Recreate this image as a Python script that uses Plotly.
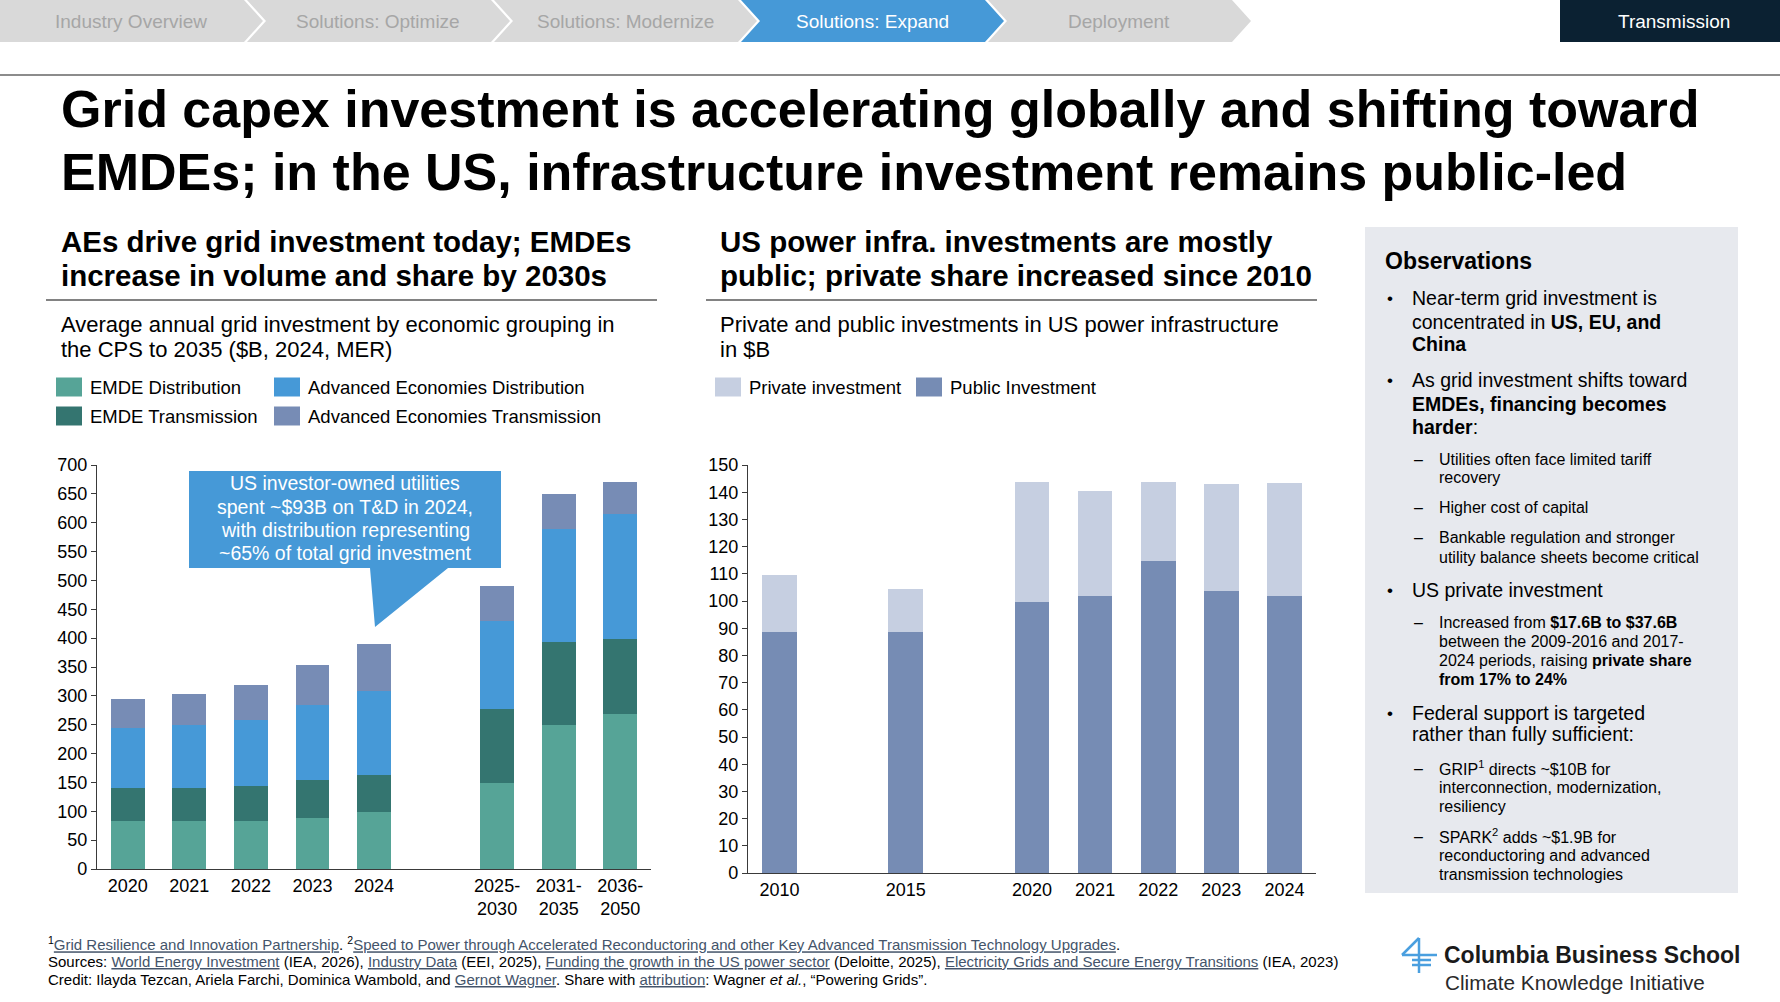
import plotly.graph_objects as go

W, H = 1780, 1002
FONT = "Liberation Sans, Arial, Helvetica, sans-serif"

# left chart: average annual grid investment by economic grouping ($B, 2024, MER)
periods = ["2020", "2021", "2022", "2023", "2024", "2025-<br>2030", "2031-<br>2035", "2036-<br>2050"]
emde_dist = [84, 84, 84, 88, 99, 149, 250, 268]
emde_trans = [56, 56, 60, 66, 64, 129, 144, 130]
ae_dist = [105, 110, 114, 130, 145, 152, 195, 217]
ae_trans = [49, 54, 60, 69, 81, 60, 60, 55]
grid_names = ["EMDE Distribution", "EMDE Transmission",
              "Advanced Economies Distribution", "Advanced Economies Transmission"]
grid_colors = ["#56a497", "#347570", "#4699d7", "#778cb5"]

# right chart: private and public investments in US power infrastructure ($B)
years = ["2010", "2015", "2020", "2021", "2022", "2023", "2024"]
public_inv = [88.5, 88.5, 99.5, 102, 114.7, 103.7, 102]
private_inv = [21.1, 15.9, 44.1, 38.6, 28.9, 39.3, 41.3]
us_names = ["Private investment", "Public Investment"]
us_colors = ["#c6cfe1", "#768cb4"]

nav_items = ["Industry Overview", "Solutions: Optimize", "Solutions: Modernize",
             "Solutions: Expand", "Deployment"]
nav_active = 3


def fx(x):
    return x / W


def fy(y):
    return 1 - y / H


def path(points):
    return "M " + " L ".join(f"{fx(x):.5f},{fy(y):.5f}" for x, y in points) + " Z"


fig = go.Figure()

for name, vals, color in zip(grid_names, [emde_dist, emde_trans, ae_dist, ae_trans], grid_colors):
    fig.add_trace(go.Bar(x=periods, y=vals, name=name, marker_color=color,
                         marker_line_width=0, xaxis="x", yaxis="y", showlegend=False))

for name, vals, color in zip(us_names[::-1], [public_inv, private_inv], us_colors[::-1]):
    fig.add_trace(go.Bar(x=years, y=vals, name=name, marker_color=color,
                         marker_line_width=0, xaxis="x2", yaxis="y2", showlegend=False))

left_order = periods[:5] + [" "] + periods[5:]
right_order = [years[0], " ", years[1], "  "] + years[2:]

axis_common = dict(showline=True, linecolor="#3a3a3a", linewidth=1.3, showgrid=False,
                   zeroline=False, automargin=False,
                   tickfont=dict(family=FONT, size=18, color="#000"))

fig.update_layout(
    width=W, height=H, margin=dict(l=0, r=0, t=0, b=0, pad=0, autoexpand=False),
    paper_bgcolor="white", plot_bgcolor="white",
    barmode="stack", bargap=0.45,
    font=dict(family=FONT, color="#000"),
    xaxis=dict(domain=[fx(97), fx(651)], type="category", categoryorder="array",
               categoryarray=left_order, anchor="y", ticks="", **axis_common),
    yaxis=dict(domain=[fy(869), fy(465)], range=[0, 700], dtick=50, anchor="x",
               ticks="outside", ticklen=5, tickcolor="#3a3a3a", **axis_common),
    xaxis2=dict(domain=[fx(748), fx(1316)], type="category", categoryorder="array",
                categoryarray=right_order, anchor="y2", ticks="", **axis_common),
    yaxis2=dict(domain=[fy(873), fy(465)], range=[0, 150], dtick=10, anchor="x2",
                ticks="outside", ticklen=5, tickcolor="#3a3a3a", **axis_common),
)


def note(x, y, text, size, color="#000000", anchor="left", bold=False):
    fig.add_annotation(x=fx(x), y=fy(y), xref="paper", yref="paper",
                       text=f"<b>{text}</b>" if bold else text, showarrow=False,
                       xanchor=anchor, yanchor="middle", align="left" if anchor == "left" else anchor,
                       borderpad=0, font=dict(family=FONT, size=size, color=color))


# navigation chevrons
P, WB, D = 247, 244, 19
for i, label in enumerate(nav_items):
    L = i * P
    pts = [(L, 0), (L + WB, 0), (L + WB + D, 21), (L + WB, 42), (L, 42)]
    if i > 0:
        pts.append((L + D, 21))
    active = i == nav_active
    fig.add_shape(type="path", path=path(pts), xref="paper", yref="paper",
                  fillcolor="#4699d7" if active else "#d9d9d9", line_width=0)
    note(L + 131, 21, label, 19, color="white" if active else "#a6a6a6", anchor="center")

fig.add_shape(type="rect", x0=fx(1560), x1=1, y0=fy(42), y1=1, xref="paper", yref="paper",
              fillcolor="#0b2132", line_width=0)
note(1674, 21, "Transmission", 19, color="white", anchor="center")

fig.add_shape(type="line", x0=0, x1=1, y0=fy(75), y1=fy(75), xref="paper", yref="paper",
              line=dict(color="#1a1a1a", width=1.2))

# title
note(60, 109, "Grid capex investment is accelerating globally and shifting toward", 52, bold=True)
note(60, 172, "EMDEs; in the US, infrastructure investment remains public-led", 52, bold=True)

# left panel header
note(60, 241, "AEs drive grid investment today; EMDEs", 29.5, bold=True)
note(60, 276, "increase in volume and share by 2030s", 29.5, bold=True)
fig.add_shape(type="line", x0=fx(46), x1=fx(657), y0=fy(300), y1=fy(300), xref="paper", yref="paper",
              line=dict(color="#595959", width=1.5))
note(60, 324, "Average annual grid investment by economic grouping in", 22)
note(60, 349, "the CPS to 2035 ($B, 2024, MER)", 22)

legend_slots = [(56, 387), (56, 416), (274, 387), (274, 416)]
for (lx, ly), name, color in zip(legend_slots, grid_names, grid_colors):
    fig.add_shape(type="rect", x0=fx(lx), x1=fx(lx + 26), y0=fy(ly + 9.5), y1=fy(ly - 9.5),
                  xref="paper", yref="paper", fillcolor=color, line_width=0)
    note(lx + 33, ly, name, 18.5)

# right panel header
note(719, 241, "US power infra. investments are mostly", 29.5, bold=True)
note(719, 276, "public; private share increased since 2010", 29.5, bold=True)
fig.add_shape(type="line", x0=fx(706), x1=fx(1317), y0=fy(300), y1=fy(300), xref="paper", yref="paper",
              line=dict(color="#595959", width=1.5))
note(719, 324, "Private and public investments in US power infrastructure", 22)
note(719, 349, "in $B", 22)

for lx, name, color in zip([715, 916], us_names, us_colors):
    fig.add_shape(type="rect", x0=fx(lx), x1=fx(lx + 26), y0=fy(396.5), y1=fy(377.5),
                  xref="paper", yref="paper", fillcolor=color, line_width=0)
    note(lx + 33, 387, name, 18.5)

# callout
fig.add_shape(type="path", xref="paper", yref="paper", fillcolor="#4699d7", line_width=0,
              path=path([(189, 471), (501, 471), (501, 568), (448, 568), (375, 627), (370, 568), (189, 568)]))
for y, line in zip([483, 507, 530, 553], ["US investor-owned utilities", "spent ~$93B on T&D in 2024,",
                                          "with distribution representing", "~65% of total grid investment"]):
    note(345, y, line, 19.5, color="white", anchor="center")

# observations panel
fig.add_shape(type="rect", x0=fx(1365), x1=fx(1738), y0=fy(893), y1=fy(227), xref="paper", yref="paper",
              fillcolor="#e7e9ee", line_width=0, layer="below")
note(1384, 261, "Observations", 23, bold=True)
obs = [
    (298.5, "Near-term grid investment is", "b"),
    (321.5, "concentrated in <b>US, EU, and</b>", "bc"),
    (344, "<b>China</b>", "bc"),
    (380, "As grid investment shifts toward", "b"),
    (404, "<b>EMDEs, financing becomes</b>", "bc"),
    (427, "<b>harder</b>:", "bc"),
    (459, "Utilities often face limited tariff", "s"),
    (477.5, "recovery", "sc"),
    (507, "Higher cost of capital", "s"),
    (537.5, "Bankable regulation and stronger", "s"),
    (557, "utility balance sheets become critical", "sc"),
    (590, "US private investment", "b"),
    (622, "Increased from <b>$17.6B to $37.6B</b>", "s"),
    (641, "between the 2009-2016 and 2017-", "sc"),
    (660, "2024 periods, raising <b>private share</b>", "sc"),
    (679.5, "<b>from 17% to 24%</b>", "sc"),
    (713, "Federal support is targeted", "b"),
    (734, "rather than fully sufficient:", "bc"),
    (768, "GRIP<sup>1</sup> directs ~$10B for", "s"),
    (787, "interconnection, modernization,", "sc"),
    (806, "resiliency", "sc"),
    (836, "SPARK<sup>2</sup> adds ~$1.9B for", "s"),
    (855, "reconductoring and advanced", "sc"),
    (874, "transmission technologies", "sc"),
]
for y, line, kind in obs:
    if kind.startswith("b"):
        if kind == "b":
            note(1386, y, "•", 17)
        note(1411, y, line, 19.5)
    else:
        if kind == "s":
            note(1413, y, "–", 16)
        note(1438, y, line, 16)


# footer
def link(s):
    return f"<span style='color:#44546a'><u>{s}</u></span>"


note(47, 943, "<sup>1</sup>" + link("Grid Resilience and Innovation Partnership") + ". <sup>2</sup>"
     + link("Speed to Power through Accelerated Reconductoring and other Key Advanced Transmission Technology Upgrades")
     + ".", 15)
note(47, 961, "Sources: " + link("World Energy Investment") + " (IEA, 2026), " + link("Industry Data")
     + " (EEI, 2025), " + link("Funding the growth in the US power sector") + " (Deloitte, 2025), "
     + link("Electricity Grids and Secure Energy Transitions") + " (IEA, 2023)", 15)
note(47, 979, "Credit: Ilayda Tezcan, Ariela Farchi, Dominica Wambold, and " + link("Gernot Wagner")
     + ". Share with " + link("attribution") + ": Wagner <i>et al.</i>, “Powering Grids”.", 15)

# logo
for (x0, y0, x1, y1) in [(1419, 938, 1402, 955), (1402, 955, 1437, 955), (1419, 938, 1419, 973),
                         (1412, 960, 1431, 960), (1412, 965, 1431, 965)]:
    fig.add_shape(type="line", x0=fx(x0), y0=fy(y0), x1=fx(x1), y1=fy(y1), xref="paper", yref="paper",
                  line=dict(color="#4a9fdf", width=2.5))
note(1443, 955, "Columbia Business School", 23, color="#1a1a1a", bold=True)
note(1444, 982, "Climate Knowledge Initiative", 20.7, color="#2a2a2a")

pin_page = (
    "document.documentElement.style.margin='0';document.documentElement.style.overflow='hidden';"
    "document.body.style.margin='0';document.body.style.padding='0';document.body.style.overflow='hidden';"
    "var gd=document.getElementById('{plot_id}');"
    "gd.style.position='fixed';gd.style.top='0px';gd.style.left='0px';"
)
fig.write_html("out.html", config={"displayModeBar": False}, post_script=pin_page)
